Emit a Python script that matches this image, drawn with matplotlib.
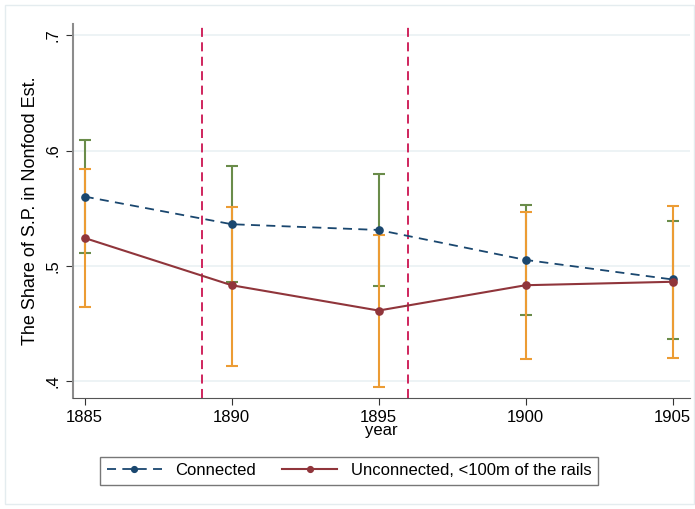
import numpy as np
import matplotlib.pyplot as plt
from matplotlib.patches import Rectangle

plt.rcParams['font.family'] = ['Liberation Sans', 'DejaVu Sans']

# Data
years = [1885, 1890, 1895, 1900, 1905]
conn = [0.560, 0.536, 0.531, 0.505, 0.488]
conn_lo = [0.511, 0.486, 0.482, 0.457, 0.436]
conn_hi = [0.609, 0.587, 0.580, 0.553, 0.539]
unconn = [0.524, 0.483, 0.461, 0.483, 0.486]
unconn_lo = [0.464, 0.413, 0.395, 0.419, 0.420]
unconn_hi = [0.584, 0.551, 0.527, 0.547, 0.552]
event_years = [1889, 1896]
yticks = [0.4, 0.5, 0.6, 0.7]
ytick_labels = ['.4', '.5', '.6', '.7']

navy = '#1a476f'
maroon = '#90353b'
green = '#6a8c4a'
orange = '#ec9c34'

fig = plt.figure(figsize=(6.95, 5.09), dpi=100)
ax = fig.add_axes([0.105, 0.218, 0.888, 0.735])

# faint outer frame of the graph region
fig.patches.append(Rectangle((5 / 695, 0.01), 1 - 6 / 695, 1 - 5 / 509 - 0.01,
                             transform=fig.transFigure, fill=False,
                             edgecolor='#e4ecef', linewidth=1))

c = np.array(conn)
u = np.array(unconn)
ax.errorbar(years, c, yerr=[c - np.array(conn_lo), np.array(conn_hi) - c],
            fmt='none', ecolor=green, elinewidth=1.5, capsize=4, capthick=1.5, zorder=2)
ax.errorbar(years, u, yerr=[u - np.array(unconn_lo), np.array(unconn_hi) - u],
            fmt='none', ecolor=orange, elinewidth=1.5, capsize=4, capthick=1.5, zorder=3)

ax.plot(years, conn, color=navy, linestyle=(0, (5, 3.5)), linewidth=1.3,
        marker='o', markersize=5.2, label='Connected', zorder=4)
ax.plot(years, unconn, color=maroon, linestyle='-', linewidth=1.5,
        marker='o', markersize=5.2, label='Unconnected, <100m of the rails', zorder=5)

for yr in event_years:
    ax.axvline(yr, color='#cc1450', linestyle=(0, (5, 3)), linewidth=1.3, zorder=1)

ax.set_xlim(1884.6, 1905.6)
ax.set_ylim(0.385, 0.71)
ax.set_xticks(years)
ax.set_yticks(yticks)
ax.set_yticklabels(ytick_labels, rotation=90, va='center')
ax.tick_params(axis='both', direction='out', length=5, labelsize=12, colors='#333333',
               labelcolor='black')
ax.tick_params(axis='y', pad=4)
ax.grid(axis='y', color='#eaf1f3', linewidth=1.2)
ax.set_axisbelow(True)

for s in ['top', 'right']:
    ax.spines[s].set_visible(False)
ax.spines['left'].set_color('#8c8c8c')
ax.spines['left'].set_linewidth(1.5)
ax.spines['bottom'].set_color('#555555')

ax.set_xlabel('year', fontsize=12, labelpad=-1)
ax.set_ylabel('The Share of S.P. in Nonfood Est.', fontsize=13, labelpad=5)

leg = fig.legend(loc='center', bbox_to_anchor=(0.502, 0.075), ncol=2,
                 fontsize=12, frameon=True, fancybox=False, edgecolor='#555555',
                 handlelength=3.3, columnspacing=1.6, markerscale=0.8)
leg.get_frame().set_linewidth(1.0)

fig.savefig('out.png', dpi=100)
